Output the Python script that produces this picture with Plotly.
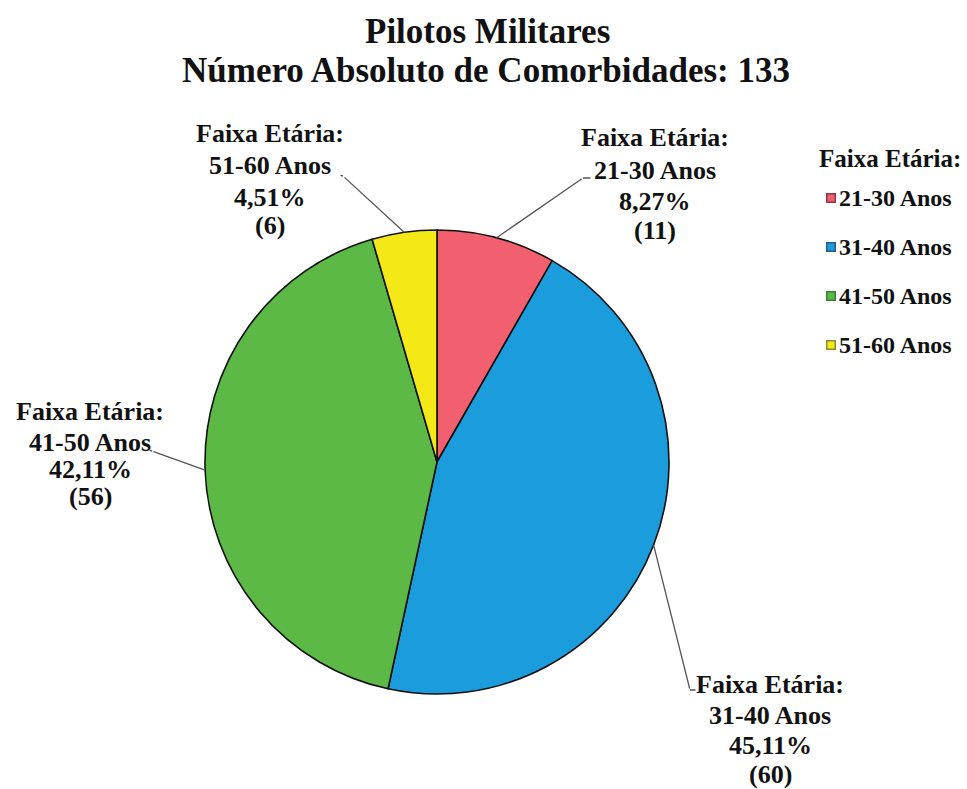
import math
import plotly.graph_objects as go

# Data
categories = ["21-30 Anos", "31-40 Anos", "41-50 Anos", "51-60 Anos"]
counts = [11, 60, 56, 6]
colors = ["#f25f6f", "#1b9cdc", "#5cb946", "#f4e917"]
legend_edge = ["#8a3a48", "#2b5a85", "#3f7a3a", "#8a8a30"]
group_label = "Faixa Etária:"
title_lines = ["Pilotos Militares", "Número Absoluto de Comorbidades: {total}"]

W, H = 967, 789
total = sum(counts)

# Pie geometry (pixels)
CX, CY, R = 437, 462, 232
FONT = "Liberation Serif"


def px(x, y):
    return x / W, 1 - y / H


def pct(v):
    return f"{v / total * 100:.2f}".replace(".", ",") + "%"


fig = go.Figure(
    go.Pie(
        labels=categories,
        values=counts,
        sort=False,
        direction="clockwise",
        rotation=0,
        marker=dict(colors=colors, line=dict(color="#111111", width=1.6)),
        textinfo="none",
        showlegend=False,
        domain=dict(x=[(CX - R) / W, (CX + R) / W], y=[1 - (CY + R) / H, 1 - (CY - R) / H]),
    )
)

annotations = []


def text_ann(t, xp, yp, size, anchor="center"):
    x, y = px(xp, yp)
    return dict(x=x, y=y, xref="paper", yref="paper", text=f"<b>{t}</b>", showarrow=False,
                font=dict(family=FONT, size=size, color="#111111"), xanchor=anchor, yanchor="middle")


def segment(p0, p1):
    # plain line from p1 to p0, drawn as an arrow without a head
    x, y = px(*p0)
    return dict(x=x, y=y, xref="paper", yref="paper", text="", showarrow=True, arrowhead=0,
                arrowwidth=1.3, arrowcolor="#555555", ax=p1[0] - p0[0], ay=p1[1] - p0[1],
                standoff=0, startstandoff=0)


# Title
for text, (tx, ty) in zip(title_lines, [(487, 31), (486, 71)]):
    annotations.append(text_ann(text.format(total=total), tx, ty, 35))

# Slice labels: text block centre x, y of each line, elbow and tail of the leader line
label_pos = [
    dict(cx=655, ys=[138, 171, 201, 230], elbow=(583, 178), tail=(592, 178)),
    dict(cx=770, ys=[684, 715, 745, 774], elbow=(690, 690), tail=(697, 690)),
    dict(cx=90, ys=[412, 442, 469, 496], elbow=(152, 451), tail=(148, 450)),
    dict(cx=270, ys=[134, 166, 197, 226], elbow=(343, 176), tail=(339, 175)),
]

start = 0.0
for cat, v, lp in zip(categories, counts, label_pos):
    frac = v / total
    mid = (start + frac / 2) * 2 * math.pi
    start += frac
    edge = (CX + R * math.sin(mid), CY - R * math.cos(mid))
    for t, ly in zip([group_label, cat, pct(v), f"({v})"], lp["ys"]):
        annotations.append(text_ann(t, lp["cx"], ly, 26))
    annotations.append(segment(edge, lp["elbow"]))
    annotations.append(segment(lp["elbow"], lp["tail"]))

# Legend: coloured squares with text
lx, ly0, dy = 831, 198, 49
annotations.append(text_ann(group_label, 817, 158, 25, anchor="left"))
for i, (cat, col, edge) in enumerate(zip(categories, colors, legend_edge)):
    yy = ly0 + i * dy
    x, y = px(lx, yy)
    annotations.append(dict(x=x, y=y, xref="paper", yref="paper", text="", showarrow=False,
                            width=7, height=7, bgcolor=col, bordercolor=edge, borderwidth=1.5,
                            borderpad=0, xanchor="center", yanchor="middle"))
    annotations.append(text_ann(cat, lx + 6, yy, 24, anchor="left"))

fig.update_layout(
    template="none",
    width=W, height=H,
    margin=dict(l=0, r=0, t=0, b=0),
    font=dict(family=FONT, color="#111111"),
    paper_bgcolor="white",
    annotations=annotations,
)

fig.write_html("out.html")
